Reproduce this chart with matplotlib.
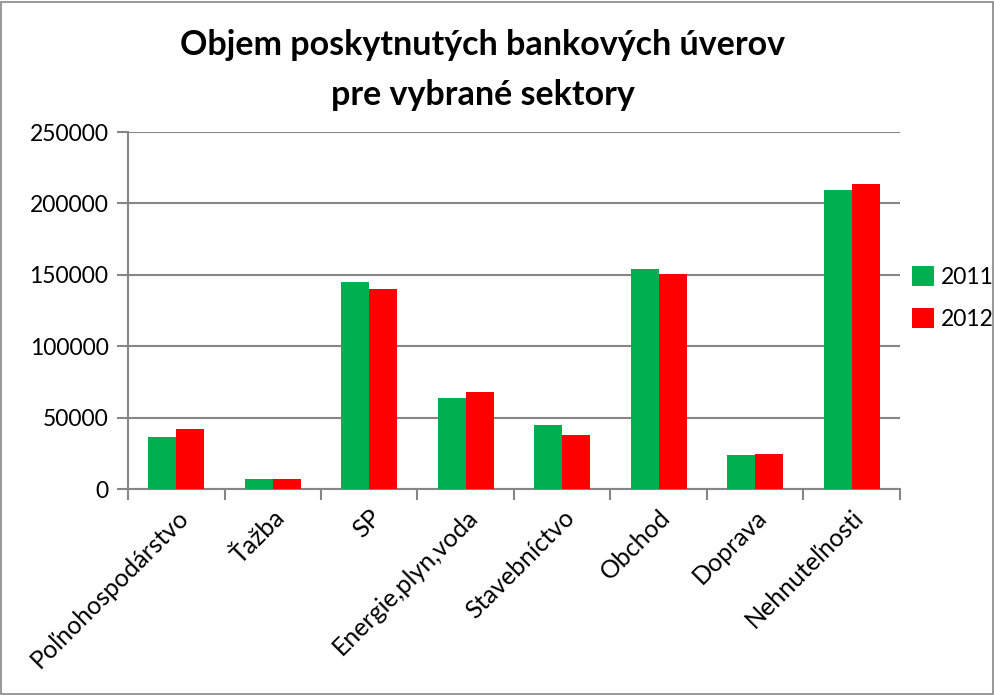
import matplotlib
matplotlib.use("Agg")
import matplotlib.pyplot as plt
import numpy as np
from matplotlib.patches import Rectangle

categories = ["Poľnohospodárstvo", "Ťažba", "SP", "Energie,plyn,voda",
              "Stavebníctvo", "Obchod", "Doprava", "Nehnuteľnosti"]
series_names = ["2011", "2012"]
values_2011 = [36300, 7200, 144800, 63800, 44700, 154400, 24100, 209500]
values_2012 = [42100, 7300, 140100, 67800, 37600, 150800, 24600, 213700]
yticks = [0, 50000, 100000, 150000, 200000, 250000]

plt.rcParams['font.family'] = ['Lato', 'DejaVu Sans']

W, H = 995, 695
fig = plt.figure(figsize=(W / 100, H / 100), dpi=100)
ax = fig.add_axes([128 / W, 1 - 489 / H, (900 - 128) / W, (489 - 132) / H])

grid_c = "#868686"
x = np.arange(len(categories))
bw = 0.29
ax.bar(x - bw / 2, values_2011, bw, color="#00B050", label=series_names[0], zorder=3)
ax.bar(x + bw / 2, values_2012, bw, color="#FF0000", label=series_names[1], zorder=3)

ax.set_xlim(-0.5, len(categories) - 0.5)
ax.set_ylim(0, 250000)
ax.set_yticks(yticks)
ax.set_yticklabels([str(v) for v in yticks], fontsize=16.5)
ax.yaxis.grid(True, color=grid_c, linewidth=1.5, zorder=0)
ax.set_axisbelow(True)

ax.set_xticks(np.arange(-0.5, len(categories), 1.0))
ax.set_xticklabels([])
ax.set_xticks(x, minor=True)
ax.set_xticklabels(categories, minor=True, rotation=45, ha='right', va='top',
                   rotation_mode='anchor', fontsize=18)
ax.tick_params(axis='x', which='minor', length=0, pad=12)
ax.tick_params(axis='x', which='major', length=8, color=grid_c, width=1.5)
ax.tick_params(axis='y', length=8, color=grid_c, width=1.5, pad=6)

for s in ['top', 'right']:
    ax.spines[s].set_visible(False)
for s in ['left', 'bottom']:
    ax.spines[s].set_color(grid_c)
    ax.spines[s].set_linewidth(1.5)

fig.text(483 / W, 1 - 45 / H, "Objem poskytnutých bankových úverov",
         ha='center', va='center', fontsize=24.5, fontweight='bold')
fig.text(483 / W, 1 - 95 / H, "pre vybrané sektory",
         ha='center', va='center', fontsize=24.5, fontweight='bold')

leg = ax.legend(loc='center left', bbox_to_anchor=(912 / W, 1 - 298 / H),
                bbox_transform=fig.transFigure, frameon=False, fontsize=16.5,
                handlelength=0.95, handleheight=0.95, handletextpad=0.3,
                labelspacing=0.9, borderpad=0, borderaxespad=0)

fig.patches.append(Rectangle((1 / W, 1 / H), 1 - 3 / W, 1 - 3 / H,
                             transform=fig.transFigure, fill=False,
                             edgecolor=grid_c, linewidth=1.2))

fig.savefig("out.png", dpi=100)
